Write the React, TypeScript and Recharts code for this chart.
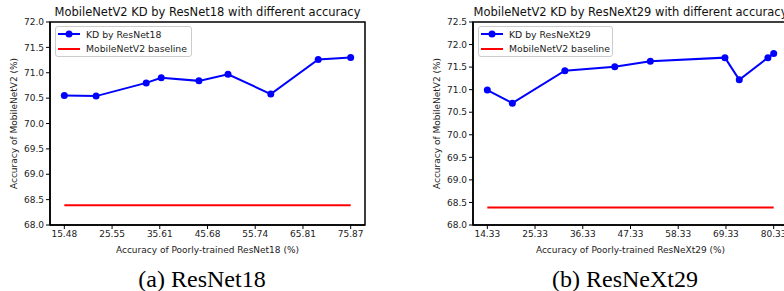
import React from 'react';
import { LineChart, Line, XAxis, YAxis, ReferenceArea } from 'recharts';

// ResNet18 panel
const resnetAcc = [15.48, 22.18, 32.75, 35.92, 43.87, 50.0, 59.02, 69.02, 75.87];
const resnetKD = [70.55, 70.54, 70.8, 70.9, 70.84, 70.97, 70.58, 71.26, 71.3];
const resnetTicks = [15.48, 25.55, 35.61, 45.68, 55.74, 65.81, 75.87];
const resnetYTicks = [68.0, 68.5, 69.0, 69.5, 70.0, 70.5, 71.0, 71.5, 72.0];

// ResNeXt29 panel
const resnextAcc = [14.33, 20.1, 32.2, 43.7, 51.9, 69.1, 72.4, 79.0, 80.33];
const resnextKD = [70.99, 70.7, 71.42, 71.51, 71.63, 71.71, 71.22, 71.71, 71.8];
const resnextTicks = [14.33, 25.33, 36.33, 47.33, 58.33, 69.33, 80.33];
const resnextYTicks = [68.0, 68.5, 69.0, 69.5, 70.0, 70.5, 71.0, 71.5, 72.0, 72.5];

const baselineAcc = 68.39;

const FONT = '"DejaVu Sans", sans-serif';
const BLUE = '#0000ff';
const RED = '#ff0000';

interface PanelProps {
    left: number;
    title: string;
    xs: number[];
    ys: number[];
    xTicks: number[];
    yTicks: number[];
    xLabel: string;
    seriesName: string;
    caption: string;
    captionCenter: number;
    legendWidth: number;
}

const Panel: React.FC<PanelProps> = ({ left, title, xs, ys, xTicks, yTicks, xLabel, seriesName, caption, captionCenter, legendWidth }) => {
    const kd = xs.map((x, i) => ({ x, y: ys[i] }));
    const base = [{ x: xs[0], y: baselineAcc }, { x: xs[xs.length - 1], y: baselineAcc }];
    const pad = (xs[xs.length - 1] - xs[0]) * 0.05;
    const xDomain = [xs[0] - pad, xs[xs.length - 1] + pad];
    const yDomain = [yTicks[0], yTicks[yTicks.length - 1]];
    const tickStyle = { fontSize: 9, fill: '#222', fontFamily: FONT };

    return (
        <>
            <div style={{ position: 'absolute', left, top: 0 }}>
                <LineChart width={380} height={260} margin={{ top: 22, right: 15, left: 0, bottom: 0 }}>
                    <XAxis
                        type="number"
                        dataKey="x"
                        domain={xDomain}
                        ticks={xTicks}
                        interval={0}
                        height={35}
                        tickFormatter={(v: number) => v.toFixed(2)}
                        tick={tickStyle}
                        tickSize={4}
                        tickLine={{ stroke: '#000' }}
                        axisLine={{ stroke: '#000', strokeWidth: 1.5 }}
                        label={{ value: xLabel, position: 'insideBottom', offset: 7, style: { fontSize: 9, fill: '#222', fontFamily: FONT } }}
                    />
                    <YAxis
                        type="number"
                        domain={yDomain}
                        ticks={yTicks}
                        interval={0}
                        width={50}
                        tickFormatter={(v: number) => v.toFixed(1)}
                        tick={tickStyle}
                        tickSize={4}
                        tickLine={{ stroke: '#000' }}
                        axisLine={{ stroke: '#000', strokeWidth: 1.5 }}
                        label={{ value: 'Accuracy of MobileNetV2 (%)', angle: -90, position: 'insideLeft', offset: 14, style: { fontSize: 9, fill: '#222', fontFamily: FONT, textAnchor: 'middle' } }}
                    />
                    <ReferenceArea x1={xDomain[0]} x2={xDomain[1]} y1={yDomain[0]} y2={yDomain[1]} fill="none" fillOpacity={0} stroke="#000" strokeWidth={1.5} />
                    <Line data={kd} dataKey="y" type="linear" stroke={BLUE} strokeWidth={2} dot={{ r: 3.5, fill: BLUE, stroke: BLUE, strokeWidth: 0 }} isAnimationActive={false} />
                    <Line data={base} dataKey="y" type="linear" stroke={RED} strokeWidth={2} dot={false} isAnimationActive={false} />
                </LineChart>
            </div>
            <div style={{ position: 'absolute', left: left + 50, top: 5, width: 315, textAlign: 'center', fontSize: 11.5, lineHeight: '14px', fontFamily: FONT, color: '#111', whiteSpace: 'nowrap' }}>
                {title}
            </div>
            <div style={{ position: 'absolute', left: left + 55, top: 26, width: legendWidth, height: 31, boxSizing: 'border-box', border: '1px solid #ccc', borderRadius: 3, background: 'rgba(255,255,255,0.8)', fontFamily: FONT, fontSize: 9.3, color: '#222', whiteSpace: 'nowrap', overflow: 'visible' }}>
                <div style={{ display: 'flex', alignItems: 'center', height: 14.4, paddingLeft: 2 }}>
                    <svg width={22} height={8} style={{ marginRight: 6, flexShrink: 0 }}>
                        <line x1={0} y1={4} x2={22} y2={4} stroke={BLUE} strokeWidth={2} />
                        <circle cx={11} cy={4} r={3.5} fill={BLUE} />
                    </svg>
                    <span>{seriesName}</span>
                </div>
                <div style={{ display: 'flex', alignItems: 'center', height: 14.4, paddingLeft: 2 }}>
                    <svg width={22} height={8} style={{ marginRight: 6, flexShrink: 0 }}>
                        <line x1={0} y1={4} x2={22} y2={4} stroke={RED} strokeWidth={2} />
                    </svg>
                    <span>MobileNetV2 baseline</span>
                </div>
            </div>
            <div style={{ position: 'absolute', left: captionCenter - 100, top: 267, width: 200, textAlign: 'center', fontSize: 24, lineHeight: '24px', fontFamily: '"Liberation Serif", "Times New Roman", serif', color: '#000' }}>
                {caption}
            </div>
        </>
    );
};

export default function App() {
    return (
        <div style={{ position: 'fixed', left: 0, top: 0, width: 784, height: 291, overflow: 'hidden', background: '#fff' }}>
            <Panel
                left={0}
                title="MobileNetV2 KD by ResNet18 with different accuracy"
                xs={resnetAcc}
                ys={resnetKD}
                xTicks={resnetTicks}
                yTicks={resnetYTicks}
                xLabel="Accuracy of Poorly-trained ResNet18 (%)"
                seriesName="KD by ResNet18"
                caption="(a) ResNet18"
                captionCenter={202}
                legendWidth={137}
            />
            <Panel
                left={423}
                title="MobileNetV2 KD by ResNeXt29 with different accuracy"
                xs={resnextAcc}
                ys={resnextKD}
                xTicks={resnextTicks}
                yTicks={resnextYTicks}
                xLabel="Accuracy of Poorly-trained ResNeXt29 (%)"
                seriesName="KD by ResNeXt29"
                caption="(b) ResNeXt29"
                captionCenter={625}
                legendWidth={135}
            />
        </div>
    );
}
